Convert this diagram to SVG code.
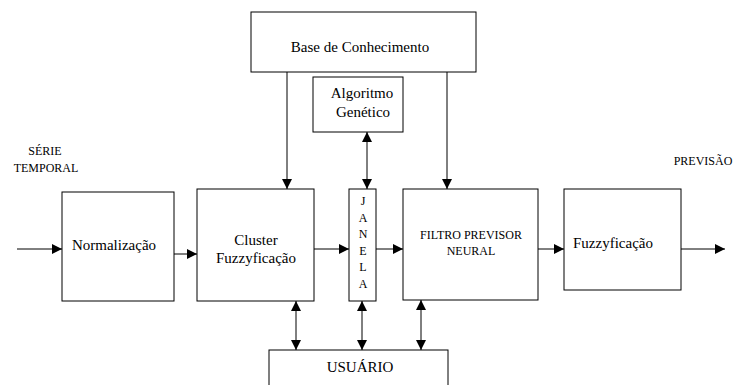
<svg xmlns="http://www.w3.org/2000/svg" width="733" height="385" viewBox="0 0 733 385">
<defs>
<marker id="ah" viewBox="0 0 10 10" refX="10" refY="5" markerWidth="10" markerHeight="10" markerUnits="userSpaceOnUse" orient="auto-start-reverse">
<path d="M0,0 L10,5 L0,10 z" fill="#000"/>
</marker>
</defs>
<style>
.box{fill:#fff;stroke:#000;stroke-width:1}
.c{stroke:#000;stroke-width:1;fill:none}
</style>
<rect width="733" height="385" fill="#fff"/>
<g id="connectors">
<line class="c" x1="17" y1="249" x2="62" y2="249" marker-end="url(#ah)"/>
<line class="c" x1="174" y1="254" x2="197" y2="254" marker-end="url(#ah)"/>
<line class="c" x1="314" y1="249" x2="349" y2="249" marker-end="url(#ah)"/>
<line class="c" x1="376" y1="249" x2="403" y2="249" marker-end="url(#ah)"/>
<line class="c" x1="538" y1="249" x2="564" y2="249" marker-end="url(#ah)"/>
<line class="c" x1="681" y1="249" x2="725" y2="249" marker-end="url(#ah)"/>
<line class="c" x1="287" y1="72" x2="287" y2="189" marker-end="url(#ah)"/>
<line class="c" x1="447" y1="72" x2="447" y2="189" marker-end="url(#ah)"/>
<line class="c" x1="367" y1="132" x2="367" y2="189" marker-start="url(#ah)" marker-end="url(#ah)"/>
<line class="c" x1="296" y1="301" x2="296" y2="350" marker-start="url(#ah)" marker-end="url(#ah)"/>
<line class="c" x1="362" y1="301" x2="362" y2="350" marker-start="url(#ah)" marker-end="url(#ah)"/>
<line class="c" x1="421" y1="300" x2="421" y2="350" marker-start="url(#ah)" marker-end="url(#ah)"/>
</g>
<g id="base">
<rect class="box" x="251" y="12" width="225" height="60"/>
<text font-family="Liberation Serif" font-size="15" text-anchor="middle" x="360" y="52">Base de Conhecimento</text>
</g>
<g id="algoritmo">
<rect class="box" x="313" y="77" width="90" height="55"/>
<text font-family="Liberation Serif" font-size="15" text-anchor="middle" x="362" y="98">Algoritmo</text>
<text font-family="Liberation Serif" font-size="15" text-anchor="middle" x="363" y="117">Genético</text>
</g>
<g id="serie">
<text font-family="Liberation Serif" font-size="12" text-anchor="middle" x="45" y="155">SÉRIE</text>
<text font-family="Liberation Serif" font-size="12" text-anchor="middle" x="46" y="172">TEMPORAL</text>
</g>
<g id="normalizacao">
<rect class="box" x="62" y="192" width="112" height="109"/>
<text font-family="Liberation Serif" font-size="15" text-anchor="middle" x="114" y="250">Normalização</text>
</g>
<g id="cluster">
<rect class="box" x="197" y="189" width="117" height="112"/>
<text font-family="Liberation Serif" font-size="15" text-anchor="middle" x="256" y="245">Cluster</text>
<text font-family="Liberation Serif" font-size="15" text-anchor="middle" x="256" y="263">Fuzzyficação</text>
</g>
<g id="janela">
<rect class="box" x="349" y="189" width="27" height="112"/>
<text font-family="Liberation Serif" font-size="12" text-anchor="middle" x="363" y="205">J</text>
<text font-family="Liberation Serif" font-size="12" text-anchor="middle" x="363" y="222">A</text>
<text font-family="Liberation Serif" font-size="12" text-anchor="middle" x="363" y="238">N</text>
<text font-family="Liberation Serif" font-size="12" text-anchor="middle" x="363" y="255">E</text>
<text font-family="Liberation Serif" font-size="12" text-anchor="middle" x="363" y="271">L</text>
<text font-family="Liberation Serif" font-size="12" text-anchor="middle" x="363" y="288">A</text>
</g>
<g id="filtro">
<rect class="box" x="403" y="189" width="135" height="111"/>
<text font-family="Liberation Serif" font-size="12" text-anchor="middle" x="471" y="239">FILTRO PREVISOR</text>
<text font-family="Liberation Serif" font-size="12" text-anchor="middle" x="471" y="255">NEURAL</text>
</g>
<g id="fuzzyficacao">
<rect class="box" x="564" y="189" width="117" height="101"/>
<text font-family="Liberation Serif" font-size="15" text-anchor="middle" x="613" y="248">Fuzzyficação</text>
</g>
<g id="previsao">
<text font-family="Liberation Serif" font-size="12" text-anchor="middle" x="703" y="165">PREVISÃO</text>
</g>
<g id="usuario">
<rect class="box" x="269" y="350" width="179" height="40"/>
<text font-family="Liberation Serif" font-size="15" text-anchor="middle" x="360" y="372">USUÁRIO</text>
</g>
</svg>
